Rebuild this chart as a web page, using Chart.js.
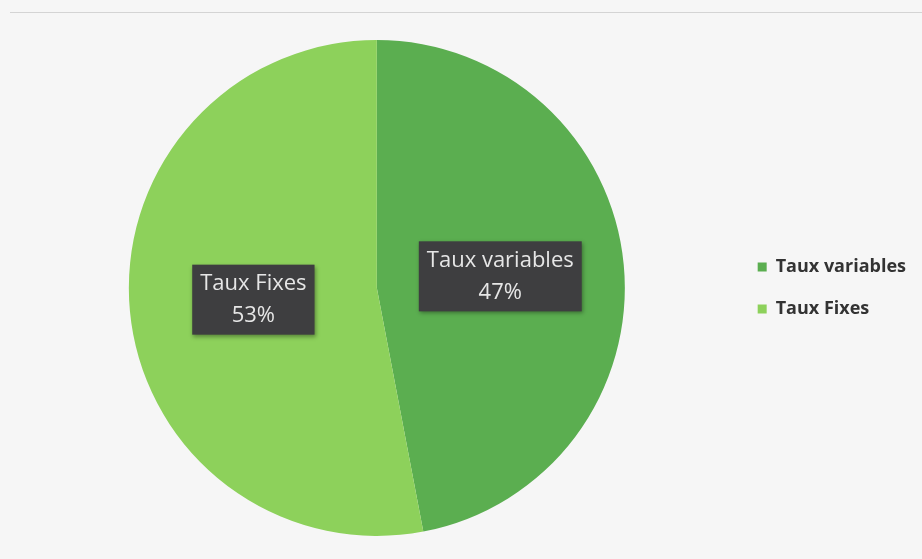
<!DOCTYPE html>
<html>
<head>
<meta charset="utf-8">
<script src="https://cdn.jsdelivr.net/npm/chart.js@4/dist/chart.umd.min.js"></script>
<style>
    html, body { margin: 0; padding: 0; background: #ffffff; }
    #wrap { position: relative; width: 922px; height: 559px; background: #f6f6f6; }
    #wrap::before { content: ''; position: absolute; left: 10px; right: 0; top: 12px; border-top: 1px solid #d4d4d4; }
    canvas { display: block; }
</style>
</head>
<body>
<div id="wrap">
    <canvas id="pieChart" width="922" height="559"></canvas>
</div>
<script>
// Data
const categories = ['Taux variables', 'Taux Fixes'];
const shares = [47, 53];
const sliceColors = ['#5bae50', '#8dd15b'];

// Draws the dark label boxes (name + percentage) inside each slice
const sliceLabels = {
    id: 'sliceLabels',
    afterDatasetsDraw(chart, args, opts) {
        const ctx = chart.ctx;
        const meta = chart.getDatasetMeta(0);
        const total = shares.reduce((s, v) => s + v, 0);
        ctx.save();
        ctx.font = opts.font;
        meta.data.forEach((arc, i) => {
            const p = arc.getProps(['x', 'y', 'startAngle', 'endAngle', 'outerRadius'], true);
            const mid = (p.startAngle + p.endAngle) / 2;
            const cx = p.x + Math.cos(mid) * p.outerRadius * 0.5;
            const cy = p.y + Math.sin(mid) * p.outerRadius * 0.5;
            const lines = [categories[i], Math.round(shares[i] / total * 100) + '%'];
            const w = Math.max(...lines.map(l => ctx.measureText(l).width)) + opts.padX * 2;
            const h = lines.length * opts.lineHeight + opts.padY * 2;
            ctx.shadowColor = 'rgba(0,0,0,0.35)';
            ctx.shadowBlur = 4;
            ctx.shadowOffsetX = 1;
            ctx.shadowOffsetY = 2;
            ctx.fillStyle = opts.boxColor;
            ctx.fillRect(cx - w / 2, cy - h / 2, w, h);
            ctx.shadowColor = 'transparent';
            ctx.fillStyle = opts.textColor;
            ctx.textAlign = 'center';
            ctx.textBaseline = 'middle';
            lines.forEach((l, j) => {
                ctx.fillText(l, cx, cy - h / 2 + opts.padY + opts.lineHeight * (j + 0.5));
            });
        });
        ctx.restore();
    }
};

new Chart(document.getElementById('pieChart'), {
    type: 'pie',
    data: {
        labels: categories,
        datasets: [{
            data: shares,
            backgroundColor: sliceColors,
            borderWidth: 0
        }]
    },
    options: {
        responsive: false,
        animation: false,
        layout: {
            padding: { left: 20, top: 40, bottom: 23, right: 6 }
        },
        plugins: {
            legend: {
                position: 'right',
                labels: {
                    boxWidth: 9,
                    boxHeight: 9,
                    padding: 24,
                    color: '#333333',
                    font: { family: '"Open Sans"', size: 18, weight: 'bold' }
                }
            },
            tooltip: { enabled: false },
            sliceLabels: {
                font: '22px "Open Sans"',
                boxColor: '#3e3e40',
                textColor: '#e6e6e6',
                lineHeight: 32,
                padX: 8,
                padY: 3
            }
        }
    },
    plugins: [sliceLabels]
});
</script>
</body>
</html>
